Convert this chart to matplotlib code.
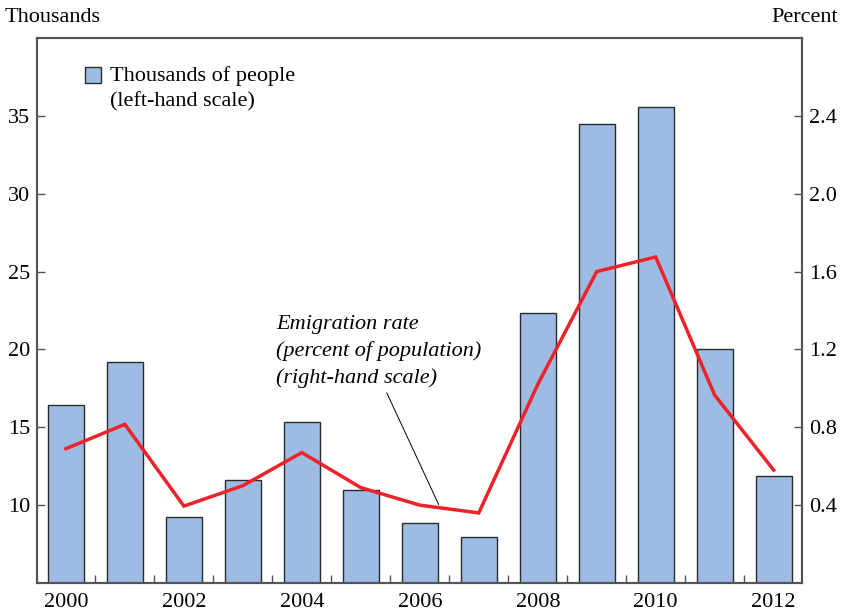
import matplotlib
matplotlib.use("Agg")
import matplotlib.pyplot as plt
from matplotlib.patches import Rectangle
from matplotlib.ticker import FixedLocator

years = [2000, 2001, 2002, 2003, 2004, 2005, 2006, 2007, 2008, 2009, 2010, 2011, 2012]
thousands = [16.45, 19.2, 9.25, 11.6, 15.35, 11.0, 8.85, 7.95, 22.35, 34.45, 35.6, 20.05, 11.85]
rate = [0.69, 0.815, 0.395, 0.50, 0.67, 0.49, 0.40, 0.36, 1.02, 1.60, 1.675, 0.965, 0.58]
left_ticks = [10, 15, 20, 25, 30, 35]
right_ticks = [0.4, 0.8, 1.2, 1.6, 2.0, 2.4]
year_labels = [2000, 2002, 2004, 2006, 2008, 2010, 2012]

plt.rcParams['font.family'] = ['Liberation Serif', 'DejaVu Serif']
FS = 16
bar_color = '#9DBBE3'
edge_color = '#2b2b2b'
line_color = '#EE2229'
spine_color = '#555555'

fig = plt.figure(figsize=(8.41, 6.12), dpi=100)
ax = fig.add_axes([37/841, 29/612, (802-37)/841, (583-38)/612])
ax2 = ax.twinx()

ax.bar(years, thousands, width=0.61, bottom=0, color=bar_color, edgecolor=edge_color, linewidth=1.0, zorder=2)
ax.set_ylim(5, 40)
ax.set_xlim(1999.51, 2012.48)
ax2.set_ylim(0, 2.8)
ax2.plot(years, rate, color=line_color, linewidth=2.5, zorder=3, solid_joinstyle='miter')

ax.set_yticks(left_ticks)
ax.set_yticklabels([str(t) for t in left_ticks], fontsize=FS)
ax2.set_yticks(right_ticks)
ax2.set_yticklabels([f"{t:.1f}" for t in right_ticks], fontsize=FS)

ax.set_xticks(year_labels)
ax.set_xticklabels([str(y) for y in year_labels], fontsize=FS)
ax.xaxis.set_minor_locator(FixedLocator([y + 0.5 for y in years[:-1]]))
ax.tick_params(axis='x', which='major', length=0, pad=7)
ax.tick_params(axis='x', which='minor', direction='in', length=6, color=spine_color, width=1)
ax.tick_params(axis='y', direction='in', length=6, color=spine_color, width=1, pad=5)
ax2.tick_params(axis='y', direction='in', length=6, color=spine_color, width=1, pad=5)

for a in (ax, ax2):
    for s in a.spines.values():
        s.set_color(spine_color)
        s.set_linewidth(1.5)

# Unit labels
fig.text(5/841, 1 - 17/612, "Thousands", fontsize=FS, ha='left', va='center')
fig.text(838/841, 1 - 17/612, "Percent", fontsize=FS, ha='right', va='center')

# Legend-like key
ax.add_patch(Rectangle((85/841, 1 - 83/612), 16/841, 16/612, transform=fig.transFigure,
                       facecolor=bar_color, edgecolor=edge_color, linewidth=1.0, clip_on=False))
fig.text(110/841, 1 - 76/612, "Thousands of people", fontsize=FS, ha='left', va='center')
fig.text(110/841, 1 - 102/612, "(left-hand scale)", fontsize=FS, ha='left', va='center')

# Annotation for line
ax2.annotate("", xy=(2006.34, 0.39), xytext=(2005.42, 0.99),
             arrowprops=dict(arrowstyle='-', color='black', linewidth=0.7))
for i, t in enumerate(["Emigration rate", "(percent of population)", "(right-hand scale)"]):
    fig.text(276/841, 1 - (324 + 27*i)/612, t, fontsize=FS, style='italic', ha='left', va='center')

fig.savefig("out.png", dpi=100)
